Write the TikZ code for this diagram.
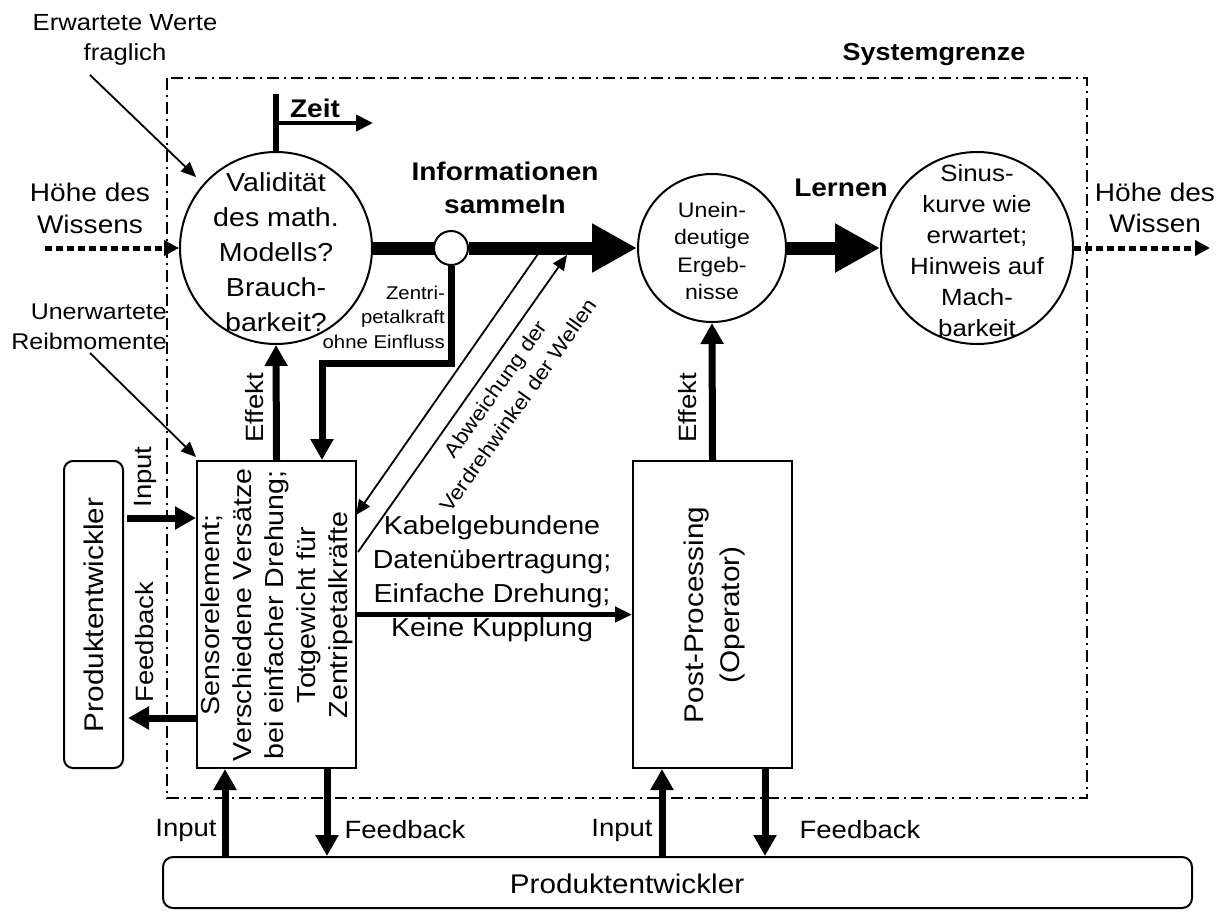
\documentclass[tikz,border=0pt]{standalone}
\usepackage{fontspec}
\setmainfont{Liberation Sans}[FakeStretch=1.1]
\usetikzlibrary{arrows.meta,calc}

\newcommand{\fs}[2]{\fontsize{#1}{#2}\selectfont}

\tikzset{
  lbl/.style={inner sep=0pt, align=center, text=black},
  rim/.style={draw, line width=2pt, fill=white},
  bigarrow/.style={line width=13pt, -{Triangle[length=45pt,width=46pt]}},
  medarrow/.style={line width=7pt, -{Triangle[length=21pt,width=22pt]}},
  flowarrow/.style={line width=4.5pt, -{Triangle[length=17pt,width=15pt]}},
  thinarrow/.style={line width=1.8pt, -{Triangle[length=15pt,width=13pt]}},
  dotarrow/.style={line width=5pt, dash pattern=on 7pt off 4pt, -{Triangle[length=15pt,width=15pt]}},
  boundary/.style={line width=2pt, dash pattern=on 12pt off 5pt on 2pt off 5pt},
}

\begin{document}
\begin{tikzpicture}[x=1pt, y=-1pt]
\useasboundingbox (0,0) rectangle (1222,911);

% system boundary
\draw[boundary] (167,78) rectangle (1087,798);
\node[lbl, font=\fs{24.5}{28}\bfseries] (sysname) at (934,55) {Systemgrenze};

% main chain of states
\node[rim, circle, minimum size=192pt, inner sep=0pt] (val) at (276,248) {};
\node[lbl, font=\fs{26}{35}] (valtxt) at (276,252) {Validität\\des math.\\Modells?\\Brauch-\\barkeit?};
\node[rim, circle, minimum size=148pt, inner sep=0pt] (une) at (712,248) {};
\node[lbl, font=\fs{21}{27.5}] (unetxt) at (712,251) {Unein-\\deutige\\Ergeb-\\nisse};
\node[rim, circle, minimum size=192pt, inner sep=0pt] (sin) at (977,248) {};
\node[lbl, font=\fs{23.5}{31}] (sintxt) at (977,251) {Sinus-\\kurve wie\\erwartet;\\Hinweis auf\\Mach-\\barkeit};

% thick knowledge arrows
\draw[line width=13pt] (val.east) -- (451,248);
\node[rim, circle, minimum size=34pt, inner sep=0pt] (tap) at (451,248) {};
\draw[bigarrow] (tap.east) -- (une.west);
\draw[bigarrow] (une.east) -- (sin.west);
\node[lbl, font=\fs{25.5}{33}\bfseries] (info) at (505,188) {Informationen\\sammeln};
\node[lbl, font=\fs{25.5}{33}\bfseries] (lern) at (841,188) {Lernen};

% time axis
\coordinate (zeittop) at (276,94);
\coordinate (zeitjoin) at (276,123);
\coordinate (zeitend) at (373,123);
\draw[line width=6pt] (val.north) -- (zeittop);
\draw[line width=4pt, -{Triangle[length=17pt,width=16pt]}] (zeitjoin) -- (zeitend);
\node[lbl, font=\fs{25.5}{30}\bfseries] (zeit) at (315,108) {Zeit};

% knowledge level in / out
\coordinate (knowin) at (45,248);
\coordinate (knowout) at (1210,248);
\draw[dotarrow] (knowin) -- (val.west);
\draw[dotarrow] (sin.east) -- (knowout);
\node[lbl, font=\fs{25.5}{32}] (hoehe1) at (90,208) {Höhe des\\Wissens};
\node[lbl, font=\fs{25.5}{31}] (hoehe2) at (1155,208) {Höhe des\\Wissen};

% annotations
\node[lbl, font=\fs{23.3}{30}] (erw) at (125,40) {Erwartete Werte\\fraglich};
\coordinate (erwfrom) at (90,75);
\coordinate (erwto) at (196,177);
\draw[thinarrow] (erwfrom) -- (erwto);
\node[lbl, font=\fs{22.7}{30}, anchor=east, align=right] (unerw) at (167,327) {Unerwartete\\Reibmomente};
\coordinate (unfrom) at (90,353);
\coordinate (unto) at (196,457);
\draw[thinarrow] (unfrom) -- (unto);

% process boxes
\node[rim, minimum width=159pt, minimum height=307pt, inner sep=0pt] (sens) at (276.5,614.5) {};
\node[lbl, font=\fs{26}{32}, rotate=90] (senstxt) at (277,615) {Sensorelement;\\Verschiedene Versätze\\bei einfacher Drehung;\\Totgewicht für\\Zentripetalkräfte};
\node[rim, minimum width=159pt, minimum height=307pt, inner sep=0pt] (post) at (712.5,614.5) {};
\node[lbl, font=\fs{27}{36}, rotate=90] (posttxt) at (715,615) {Post-Processing\\(Operator)};
\node[rim, rounded corners=9pt, minimum width=59pt, minimum height=307pt, inner sep=0pt] (peleft) at (93.5,614.5) {};
\node[lbl, font=\fs{27}{32}, rotate=90] (pelefttxt) at (94,615) {Produktentwickler};
\node[rim, rounded corners=10pt, minimum width=1029pt, minimum height=51pt, inner sep=0pt] (pebot) at (677.5,882.5) {};
\node[lbl, font=\fs{27}{32}] (pebottxt) at (627,884) {Produktentwickler};

% effects up to the states
\draw[medarrow] (sens.north) -- (val.south);
\node[lbl, font=\fs{25}{30}, rotate=90] (eff1) at (255,408) {Effekt};
\draw[medarrow] (post.north) -- (une.south);
\node[lbl, font=\fs{25}{30}, rotate=90] (eff2) at (688,408) {Effekt};

% centripetal force branch
\coordinate (zbend) at (322,363);
\draw[line width=7pt, -{Triangle[length=21pt,width=22pt]}] (tap.south) |- (zbend) -- (zbend |- sens.north);
\node[lbl, font=\fs{18.5}{24.5}, anchor=east, align=right] (zentri) at (445,317) {Zentri-\\petalkraft\\ohne Einfluss};

% twist deviation exchange
\coordinate (devfrom) at (538,254);
\coordinate (devto) at (356,515);
\coordinate (devback) at (358,552);
\coordinate (devtip) at (567,255);
\draw[thinarrow] (devfrom) -- (devto);
\draw[thinarrow] (devback) -- (devtip);
\node[lbl, font=\fs{20.5}{28}, rotate=54.7] (dev) at (507,397) {Abweichung der\\Verdrehwinkel der Wellen};

% data transfer
\draw[flowarrow] (sens.east) -- (post.west);
\node[lbl, font=\fs{26}{34}] (kabel) at (492,579) {Kabelgebundene\\Datenübertragung;\\Einfache Drehung;\\Keine Kupplung};

% left developer exchange
\coordinate (inl) at (127,518);
\coordinate (fbl) at (128,718);
\draw[medarrow] (inl) -- (inl -| sens.west);
\draw[medarrow] (fbl -| sens.west) -- (fbl);
\node[lbl, font=\fs{25}{30}, rotate=90] (inltxt) at (145,477) {Input};
\node[lbl, font=\fs{25}{30}, rotate=90] (fbltxt) at (145,642) {Feedback};

% bottom developer exchange
\coordinate (in1) at (225,0);
\coordinate (fb1) at (327,0);
\coordinate (in2) at (662,0);
\coordinate (fb2) at (765,0);
\draw[medarrow] (in1 |- pebot.north) -- (in1 |- sens.south);
\draw[medarrow] (fb1 |- sens.south) -- (fb1 |- pebot.north);
\draw[medarrow] (in2 |- pebot.north) -- (in2 |- post.south);
\draw[medarrow] (fb2 |- post.south) -- (fb2 |- pebot.north);
\node[lbl, font=\fs{25}{30}] (in1txt) at (186,830) {Input};
\node[lbl, font=\fs{25}{30}] (fb1txt) at (405,830) {Feedback};
\node[lbl, font=\fs{25}{30}] (in2txt) at (622,830) {Input};
\node[lbl, font=\fs{25}{30}] (fb2txt) at (860,830) {Feedback};
\end{tikzpicture}
\end{document}
